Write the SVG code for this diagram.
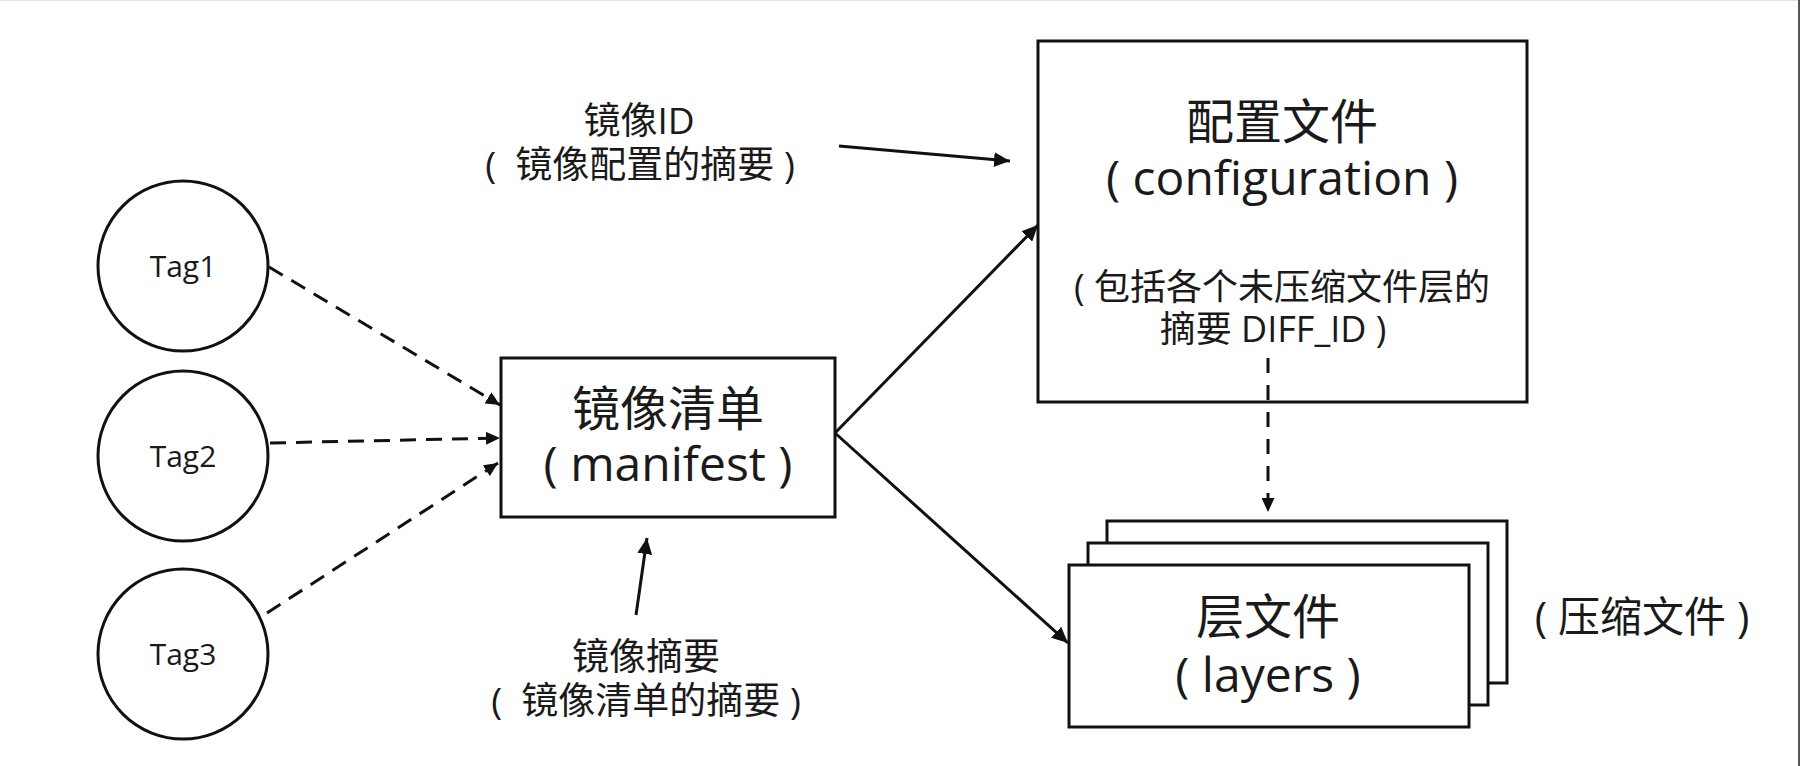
<svg xmlns="http://www.w3.org/2000/svg" width="1800" height="766" viewBox="0 0 1800 766">
<defs>
<style>
.shape{fill:#fff;stroke:#111;stroke-width:3}
.t{font-family:"Open Sans","Noto Sans CJK SC",sans-serif;fill:#1a1a1a;text-anchor:middle;white-space:pre}
.big{font-size:48px}
.mid{font-size:37px}
.note{font-size:36px}
.tag{font-size:30px}
.line{stroke:#111;stroke-width:3;fill:none}
.dash{stroke:#111;stroke-width:3;fill:none;stroke-dasharray:16 10}
.vdash{stroke:#111;stroke-width:3;fill:none;stroke-dasharray:15 12}
</style>
<marker id="ah" markerUnits="userSpaceOnUse" markerWidth="16" markerHeight="15" refX="16" refY="7.5" orient="auto">
<path d="M0,0 L16,7.5 L0,15 z" fill="#111"/>
</marker>
<marker id="ahs" markerUnits="userSpaceOnUse" markerWidth="14" markerHeight="13" refX="14" refY="6.5" orient="auto">
<path d="M0,0 L14,6.5 L0,13 z" fill="#111"/>
</marker>
</defs>
<rect x="0" y="0" width="1800" height="766" fill="#fff"/>
<line x1="0" y1="0.5" x2="1800" y2="0.5" stroke="#e6e6e6" stroke-width="1"/>
<line x1="1799" y1="0" x2="1799" y2="766" stroke="#555" stroke-width="2"/>

<g id="tag1">
<circle class="shape" cx="183" cy="266" r="85"/>
<text class="t tag" x="183" y="277">Tag1</text>
</g>
<g id="tag2">
<circle class="shape" cx="183" cy="456" r="85"/>
<text class="t tag" x="183" y="467">Tag2</text>
</g>
<g id="tag3">
<circle class="shape" cx="183" cy="654" r="85"/>
<text class="t tag" x="183" y="665">Tag3</text>
</g>

<g id="manifest">
<rect class="shape" x="501" y="358" width="334" height="159"/>
<text class="t big" x="668" y="426">镜像清单</text>
<text class="t big" x="668" y="481">( manifest )</text>
</g>

<g id="config">
<rect class="shape" x="1038" y="41" width="489" height="361"/>
<text class="t big" x="1282" y="139">配置文件</text>
<text class="t big" x="1282" y="195">( configuration )</text>
<text class="t note" x="1282" y="300">( 包括各个未压缩文件层的</text>
<text class="t note" x="1273" y="342">摘要 DIFF_ID )</text>
</g>

<g id="layers">
<rect class="shape" x="1107" y="521" width="400" height="162"/>
<rect class="shape" x="1088" y="543" width="400" height="162"/>
<rect class="shape" x="1069" y="565" width="400" height="162"/>
<text class="t big" x="1268" y="634">层文件</text>
<text class="t big" x="1268" y="692">( layers )</text>
</g>

<g id="image-id-label">
<text class="t mid" x="639" y="134">镜像ID</text>
<text class="t mid" x="640" y="178" xml:space="preserve">(  镜像配置的摘要 )</text>
</g>

<g id="image-digest-label">
<text class="t mid" x="646" y="670">镜像摘要</text>
<text class="t mid" x="646" y="714" xml:space="preserve">(  镜像清单的摘要 )</text>
</g>

<g id="compressed-label">
<text class="t" style="font-size:42px" x="1642" y="632">( 压缩文件 )</text>
</g>

<g id="connectors">
<line class="dash" x1="269" y1="267" x2="500" y2="405" marker-end="url(#ahs)"/>
<line class="dash" x1="270" y1="443" x2="500" y2="438" marker-end="url(#ahs)"/>
<line class="dash" x1="267" y1="613" x2="498" y2="463" marker-end="url(#ahs)"/>
<line class="line" x1="839" y1="146" x2="1010" y2="161" marker-end="url(#ah)"/>
<line class="line" x1="835" y1="433" x2="1038" y2="225" marker-end="url(#ah)"/>
<line class="line" x1="835" y1="433" x2="1068" y2="643" marker-end="url(#ah)"/>
<line class="line" x1="636" y1="615" x2="647" y2="538" marker-end="url(#ah)"/>
<line class="vdash" x1="1268" y1="358" x2="1268" y2="512" marker-end="url(#ahs)"/>
</g>
</svg>
